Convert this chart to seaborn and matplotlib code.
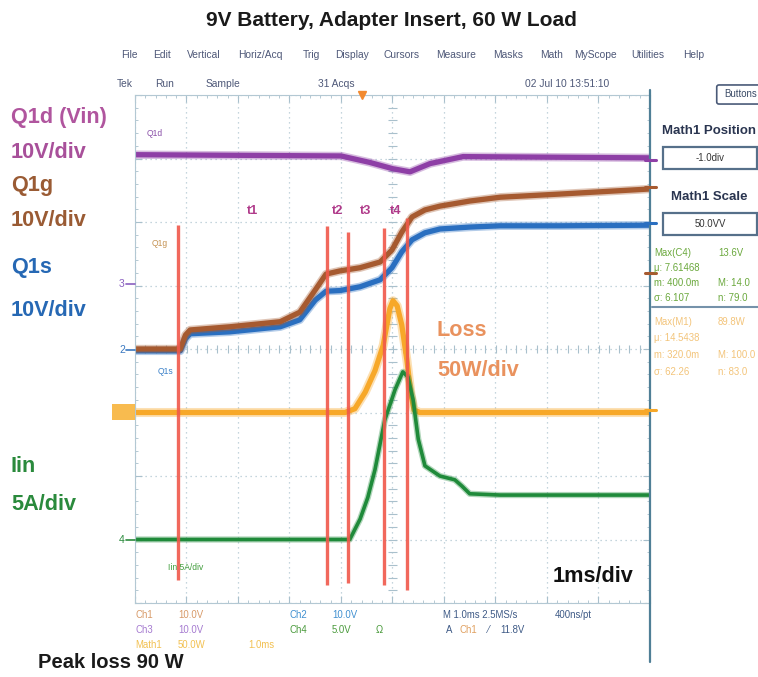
import numpy as np
import pandas as pd
import matplotlib
matplotlib.use("Agg")
import matplotlib.pyplot as plt
from matplotlib import font_manager
from matplotlib.patches import Rectangle, FancyBboxPatch
from matplotlib.lines import Line2D
import seaborn as sns

# traces, time in ms from screen centre (1 ms/div)
t_vin = [-5.0, -1.0, -0.45, 0.0, 0.34, 0.73, 1.37, 5.0]
q1d_v = [20.6, 20.4, 19.4, 18.4, 17.9, 19.2, 20.3, 20.1]

t_gate = [-5.0, -4.12, -4.02, -3.93, -3.16, -2.18, -1.80, -1.50, -1.29, -1.02, -0.63,
          -0.24, -0.01, 0.18, 0.38, 0.63, 0.92, 1.50, 2.09, 3.25, 5.0]
q1g_v = [0.0, 0.0, 2.2, 3.0, 3.5, 4.3, 5.8, 9.3, 11.8, 12.3, 12.8,
         13.7, 15.6, 18.4, 20.8, 21.9, 22.5, 23.3, 23.9, 24.4, 25.2]
q1s_v = [-0.3, -0.3, 1.6, 2.4, 2.7, 3.5, 4.6, 7.7, 9.1, 9.2, 9.8,
         10.9, 12.8, 15.3, 17.2, 18.3, 18.9, 19.2, 19.4, 19.4, 19.5]

t_loss = [-5.0, -0.92, -0.73, -0.53, -0.34, -0.18, -0.05, 0.01, 0.09, 0.18, 0.28, 0.36, 0.42, 0.53, 5.0]
loss_w = [0, 0, 3, 16, 33, 53, 82, 88, 84, 69, 41, 14, 2, 0, 0]

t_iin = [-5.0, -0.83, -0.63, -0.48, -0.34, -0.15, 0.05, 0.20, 0.30, 0.40, 0.50,
         0.63, 0.92, 1.21, 1.35, 1.50, 2.09, 5.0]
iin_a = [0, 0, 1.6, 3.3, 5.5, 9.4, 11.8, 13.2, 12.8, 11.0, 7.9,
         5.8, 5.0, 4.7, 4.2, 3.6, 3.5, 3.5]

# cursor lines (ms) and interval names
cursor_t = [-4.16, -1.28, -0.86, -0.17, 0.28]
interval_labels = ["t1", "t2", "t3", "t4"]

# vertical setup of each channel: units/div and position (div)
scale = {"q1d": 10, "q1g": 10, "q1s": 10, "loss": 50, "iin": 5}
pos = {"q1d": 1.0, "q1g": 0.0, "q1s": 0.0, "loss": -1.0, "iin": -3.0}

W, H = 758, 677
sns.set_style("white")
names = {f.name for f in font_manager.fontManager.ttflist}
NARROW = "Liberation Sans Narrow" if "Liberation Sans Narrow" in names else "Liberation Sans"
k = 1.0 if NARROW == "Liberation Sans Narrow" else 0.82
plt.rcParams["font.family"] = ["Liberation Sans", "DejaVu Sans"]

fig = plt.figure(figsize=(W / 100, H / 100), dpi=100)
fig.patch.set_facecolor("white")


def fx(x, y):
    return x / W, 1 - y / H


def ft(x, y, s, **kw):
    kw.setdefault("va", "center")
    kw.setdefault("family", [NARROW, "DejaVu Sans"])
    fig.text(*fx(x, y), s, **kw)


ax = fig.add_axes([135 / W, 1 - 603 / H, 515 / W, 508 / H])
ax.set_xlim(-5, 5)
ax.set_ylim(-4, 4)
ax.set_xticks(range(-5, 6))
ax.set_yticks(range(-4, 5))
ax.set_xticks(np.arange(-5, 5.01, 0.2), minor=True)
ax.set_yticks(np.arange(-4, 4.01, 0.2), minor=True)
ax.grid(True, which="major", ls=(0, (1, 3)), color="#b3c8d3", lw=0.9)
ax.tick_params(which="both", direction="in", top=True, right=True, bottom=True, left=True,
               labelbottom=False, labelleft=False, color="#a9c0cc")
ax.tick_params(which="major", length=5)
ax.tick_params(which="minor", length=2.5)
ax.vlines(np.arange(-5, 5.01, 0.2), -0.06, 0.06, color="#a9c0cc", lw=0.8)
ax.hlines(np.arange(-4, 4.01, 0.2), -0.08, 0.08, color="#a9c0cc", lw=0.8)
for sp in ax.spines.values():
    sp.set_color("#b3c8d3")
ax.spines["right"].set_visible(False)


def trace(t, v, key, color, core, halo):
    y = np.asarray(v, float) / scale[key] + pos[key]
    sns.lineplot(x=t, y=y, ax=ax, color=color, lw=halo, alpha=0.35, sort=False, estimator=None)
    sns.lineplot(x=t, y=y, ax=ax, color=color, lw=core, sort=False, estimator=None)


trace(t_loss, loss_w, "loss", "#f7a829", 3.8, 6.5)
trace(t_iin, iin_a, "iin", "#1f8a3a", 2.6, 4.5)
trace(t_vin, q1d_v, "q1d", "#8e3fa6", 3.8, 6)
trace(t_gate, q1s_v, "q1s", "#2a6fc0", 3.8, 6)
trace(t_gate, q1g_v, "q1g", "#a65a30", 3.8, 6)

tops = [1.95, 1.94, 1.84, 1.90, 2.06]
bottoms = [-3.64, -3.72, -3.68, -3.72, -3.80]
for t, a, b in zip(cursor_t, tops, bottoms):
    ax.vlines(t, b, a, color="#f0584a", lw=2.4, alpha=0.9, zorder=5)
for i, lab in enumerate(interval_labels):
    mid = (cursor_t[i] + cursor_t[i + 1]) / 2
    ax.text(mid, 2.17, lab, color="#b03a8a", fontsize=10 * k + 1, fontweight="bold",
            ha="center", va="center", family=[NARROW, "DejaVu Sans"])

# right border of the screen, runs into the readout area
fig.add_artist(Line2D([650 / W, 650 / W], [1 - 90 / H, 1 - 662 / H], color="#4f7f96", lw=1.6))

# title and notes
ft(391, 20, "9V Battery, Adapter Insert, 60 W Load", ha="center", fontsize=15,
   fontweight="bold", family=["Liberation Sans", "DejaVu Sans"], color="#1a1a1a")
ft(38, 662, "Peak loss 90 W", ha="left", fontsize=14.5, fontweight="bold",
   family=["Liberation Sans", "DejaVu Sans"], color="#1a1a1a")

# channel captions on the left
big = 19 * k
for y, s, c in [(117, "Q1d (Vin)", "#b0559e"), (152, "10V/div", "#a8509a"),
                (186, "Q1g", "#9a5b34"), (221, "10V/div", "#9a5b34"),
                (268, "Q1s", "#2668b4"), (310, "10V/div", "#2668b4"),
                (466, "Iin", "#2a8a3c"), (505, "5A/div", "#2a8a3c")]:
    ft(11, y, s, ha="left", fontsize=big, fontweight="bold", color=c)
ft(437, 330, "Loss", ha="left", fontsize=big, fontweight="bold", color="#e9925e")
ft(437, 370, "50W/div", ha="left", fontsize=big, fontweight="bold", color="#e9925e")
ft(553, 577, "1ms/div", ha="left", fontsize=big, fontweight="bold", color="#111111")

# scope menu and status line
menu = [(121, "File"), (153, "Edit"), (187, "Vertical"), (238, "Horiz/Acq"), (303, "Trig"),
        (335, "Display"), (383, "Cursors"), (436, "Measure"), (493, "Masks"), (540, "Math"),
        (574, "MyScope"), (631, "Utilities"), (683, "Help")]
for x, s in menu:
    ft(x, 55, s, ha="left", fontsize=9 * k, color="#4e5878")
for x, s in [(117, "Tek"), (155, "Run"), (206, "Sample"), (318, "31 Acqs"), (525, "02 Jul 10 13:51:10")]:
    ft(x, 84, s, ha="left", fontsize=9 * k, color="#4e5878")
fig.add_artist(FancyBboxPatch(fx(719, 102), 50 / W, 15 / H, boxstyle="round,pad=0.003",
                              transform=fig.transFigure, fc="white", ec="#4a5a78", lw=1.2))
ft(724, 94, "Buttons", ha="left", fontsize=8.5 * k, color="#3a4a66")

# right readout panel
ft(709, 131, "Math1 Position", ha="center", fontsize=9.5, fontweight="bold",
   family=["Liberation Sans", "DejaVu Sans"], color="#2a3550")
ft(709, 197, "Math1 Scale", ha="center", fontsize=9.5, fontweight="bold",
   family=["Liberation Sans", "DejaVu Sans"], color="#2a3550")
for y0, s in [(169, "-1.0div"), (235, "50.0VV")]:
    fig.add_artist(Rectangle(fx(663, y0), 94 / W, 22 / H, transform=fig.transFigure,
                             fc="white", ec="#56708a", lw=1.6))
    ft(710, y0 - 11, s, ha="center", fontsize=8.5 * k, color="#333333")
for y, a, b in [(253, "Max(C4)", "13.6V"), (268, "μ: 7.61468", ""),
                (283, "m: 400.0m", "M: 14.0"), (298, "σ: 6.107", "n: 79.0")]:
    ft(654, y, a, ha="left", fontsize=8.5 * k, color="#6aa83c")
    ft(718, y, b, ha="left", fontsize=8.5 * k, color="#6aa83c")
fig.add_artist(Line2D([652 / W, 1], [1 - 307 / H] * 2, color="#7592aa", lw=1.5))
for y, a, b in [(322, "Max(M1)", "89.8W"), (338, "μ: 14.5438", ""),
                (355, "m: 320.0m", "M: 100.0"), (372, "σ: 62.26", "n: 83.0")]:
    ft(654, y, a, ha="left", fontsize=8.5 * k, color="#f3c47a")
    ft(718, y, b, ha="left", fontsize=8.5 * k, color="#f3c47a")

# channel readouts under the screen
for x, y, s, c in [(135, 615, "Ch1", "#d89a68"), (178, 615, "10.0V", "#d89a68"),
                   (135, 630, "Ch3", "#a57ad0"), (178, 630, "10.0V", "#a57ad0"),
                   (135, 645, "Math1", "#f2c050"), (178, 645, "50.0W", "#f2c050"),
                   (248, 645, "1.0ms", "#f2c050"),
                   (290, 615, "Ch2", "#3f8fd0"), (332, 615, "10.0V", "#3f8fd0"),
                   (290, 630, "Ch4", "#4a9a3c"), (332, 630, "5.0V", "#4a9a3c"),
                   (376, 630, "Ω", "#4a9a3c"),
                   (443, 615, "M 1.0ms 2.5MS/s", "#3e5a86"), (555, 615, "400ns/pt", "#3e5a86"),
                   (446, 630, "A", "#3e5a86"), (460, 630, "Ch1", "#e0a060"),
                   (488, 630, "⁄", "#3e5a86"), (500, 630, "11.8V", "#3e5a86")]:
    ft(x, y, s, ha="left", fontsize=8.5 * k, color=c)

# small trace tags and ground markers
for x, y, s, c in [(147, 133, "Q1d", "#8a50a8"), (152, 243, "Q1g", "#c49252"),
                   (158, 372, "Q1s", "#3a80c8"), (168, 568, "Iin 5A/div", "#3f9c3a")]:
    ft(x, y, s, ha="left", fontsize=7.5 * k, color=c)
for y, s, c in [(284, "3", "#8a60c0"), (350, "2", "#3a78c0"), (540, "4", "#2a8a3c")]:
    ft(119, y, s, ha="left", fontsize=7.5, color=c)
    fig.add_artist(Line2D([126 / W, 135 / W], [1 - y / H] * 2, color=c, lw=1.2))
fig.add_artist(Rectangle(fx(112, 420), 23 / W, 16 / H, transform=fig.transFigure,
                         fc="#f7b030", ec="none", alpha=0.85))
for y, c in [(160, "#8e3fa6"), (187, "#a65a30"), (223, "#2a6fc0"), (273, "#a65a30"), (410, "#f7a829")]:
    fig.add_artist(Line2D([645 / W, 656 / W], [1 - y / H] * 2, color=c, lw=2.2))
fig.add_artist(Line2D([362 / W], [1 - 95 / H], marker="v", color="#f28a30", ms=6))

fig.savefig("out.png", dpi=100, facecolor="white")
